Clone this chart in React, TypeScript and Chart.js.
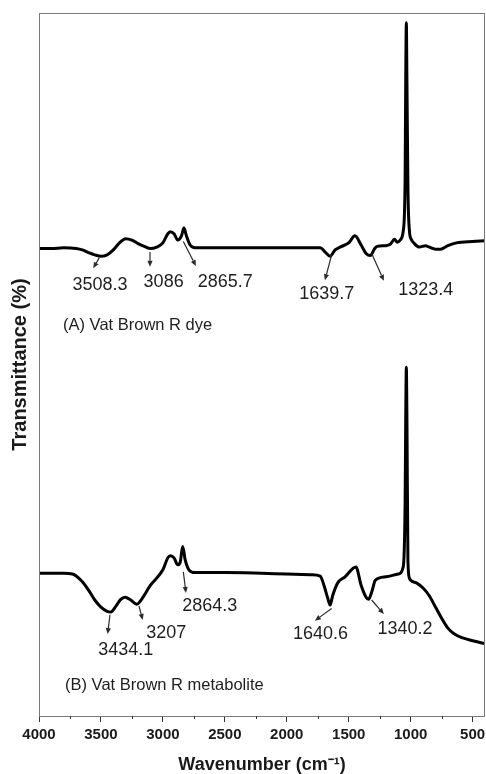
import React, { useEffect, useRef } from 'react';
import { Chart, registerables } from 'chart.js';

Chart.register(...registerables);

// ---- Data (wavenumber in cm-1, transmittance in arbitrary offset %) ----
const wavenumberA = [4000, 3900, 3800, 3700, 3650, 3600, 3550, 3500, 3450, 3400, 3350, 3300, 3250, 3200, 3150, 3100, 3050, 3000, 2960, 2940, 2910, 2880, 2850, 2830, 2810, 2780, 2740, 2600, 2400, 2200, 2000, 1800, 1730, 1690, 1650, 1610, 1570, 1500, 1450, 1400, 1360, 1325, 1290, 1270, 1200, 1165, 1130, 1110, 1080, 1060, 1045, 1040, 1035, 1030, 1022, 1010, 995, 970, 930, 880, 850, 800, 760, 700, 630, 500, 400];
const transmittanceA = [66.5, 66.5, 66.6, 66.5, 66.3, 65.9, 65.6, 65.4, 65.6, 66.3, 67.3, 67.9, 67.7, 67.2, 66.8, 66.5, 66.7, 67.3, 68.6, 68.9, 68.6, 67.7, 68.3, 69.4, 68.3, 67.0, 66.6, 66.6, 66.6, 66.6, 66.6, 66.6, 66.6, 66.0, 65.4, 66.3, 66.7, 67.3, 68.3, 67.0, 65.8, 65.5, 66.5, 66.8, 66.9, 67.1, 67.8, 67.4, 67.8, 69.0, 76.0, 90.0, 98.6, 90.0, 75.0, 69.0, 67.8, 67.2, 66.7, 66.9, 66.7, 66.4, 66.4, 66.9, 67.3, 67.5, 67.6];

const wavenumberB = [4000, 3800, 3730, 3650, 3600, 3550, 3500, 3450, 3420, 3380, 3340, 3305, 3260, 3210, 3180, 3100, 3000, 2960, 2940, 2910, 2880, 2860, 2840, 2820, 2790, 2740, 2500, 2200, 2000, 1800, 1730, 1700, 1670, 1650, 1630, 1590, 1530, 1442, 1400, 1360, 1340, 1310, 1286, 1200, 1100, 1060, 1045, 1040, 1035, 1030, 1022, 1010, 1000, 950, 900, 850, 800, 750, 700, 650, 580, 500, 400];
const transmittanceB = [20.3, 20.3, 20.2, 19.1, 17.9, 16.5, 15.5, 14.9, 14.8, 15.6, 16.6, 16.9, 16.5, 15.9, 16.4, 18.6, 20.8, 22.5, 22.8, 22.5, 21.5, 21.9, 24.1, 22.2, 20.8, 20.4, 20.4, 20.3, 20.2, 20.1, 19.9, 18.6, 16.8, 15.8, 17.1, 18.9, 19.8, 21.2, 18.6, 16.9, 16.6, 17.9, 19.3, 19.8, 20.2, 21.2, 30.0, 42.0, 49.6, 42.0, 22.0, 19.6, 19.3, 18.9, 18.2, 17.1, 15.5, 13.9, 12.5, 11.7, 11.1, 10.7, 10.3];

const xTickValues = [4000, 3500, 3000, 2500, 2000, 1500, 1000, 500];
const xMinorTickValues = [3750, 3250, 2750, 2250, 1750, 1250, 750];

// Peak annotations: label, label position [w, T], arrow start [w, T], arrow end [w, T]
const peakLabels = ['3508.3', '3086', '2865.7', '1639.7', '1323.4', '3434.1', '3207', '2864.3', '1640.6', '1340.2'];
const peakLabelPos = [[3508, 61.3], [2994, 61.7], [2496, 61.7], [1677, 60.0], [879, 60.6], [3300, 9.4], [2973, 11.85], [2622, 15.7], [1728, 11.66], [1046, 12.33]];
const peakArrowFrom = [[3513, 65.2], [3104, 66.0], [2835, 67.5], [1638, 65.6], [1315, 65.8], [3427, 14.4], [3193, 15.65], [2835, 20.5], [1638, 15.3], [1315, 16.5]];
const peakArrowTo = [[3562, 63.7], [3104, 63.9], [2733, 64.0], [1692, 62.0], [1216, 61.9], [3446, 11.66], [3163, 13.66], [2814, 17.5], [1773, 13.56], [1216, 14.5]];

const panelLabels = ['(A) Vat Brown R dye', '(B) Vat Brown R metabolite'];
const panelLabelPos = [[3806, 55.6], [3790, 4.4]];

const FONT = "'Liberation Sans', Arial, Helvetica, sans-serif";

const decorPlugin = {
  id: 'decor',
  afterDraw(chart: any) {
    const { ctx, chartArea, scales } = chart;
    const xs = scales.x;
    const ys = scales.y;
    ctx.save();
    // frame
    ctx.strokeStyle = '#7a7a7a';
    ctx.lineWidth = 1;
    ctx.strokeRect(chartArea.left + 0.5, chartArea.top + 0.5, chartArea.right - chartArea.left - 1, chartArea.bottom - chartArea.top);
    // minor ticks
    ctx.strokeStyle = '#333';
    ctx.beginPath();
    xMinorTickValues.forEach((v) => {
      const px = Math.round(xs.getPixelForValue(v)) + 0.5;
      ctx.moveTo(px, chartArea.bottom);
      ctx.lineTo(px, chartArea.bottom + 3);
    });
    ctx.stroke();

    // arrows
    ctx.strokeStyle = '#2a2a2a';
    ctx.fillStyle = '#2a2a2a';
    ctx.lineWidth = 1.2;
    peakLabels.forEach((_, i) => {
      const x1 = xs.getPixelForValue(peakArrowFrom[i][0]);
      const y1 = ys.getPixelForValue(peakArrowFrom[i][1]);
      const x2 = xs.getPixelForValue(peakArrowTo[i][0]);
      const y2 = ys.getPixelForValue(peakArrowTo[i][1]);
      const ang = Math.atan2(y2 - y1, x2 - x1);
      const head = 6;
      const hw = 2.6;
      const bx = x2 - head * Math.cos(ang);
      const by = y2 - head * Math.sin(ang);
      ctx.beginPath();
      ctx.moveTo(x1, y1);
      ctx.lineTo(bx, by);
      ctx.stroke();
      ctx.beginPath();
      ctx.moveTo(x2, y2);
      ctx.lineTo(bx + hw * Math.sin(ang), by - hw * Math.cos(ang));
      ctx.lineTo(bx - hw * Math.sin(ang), by + hw * Math.cos(ang));
      ctx.closePath();
      ctx.fill();
    });

    // peak labels
    ctx.fillStyle = '#1e1e1e';
    ctx.font = `18px ${FONT}`;
    ctx.textAlign = 'center';
    ctx.textBaseline = 'middle';
    peakLabels.forEach((t, i) => {
      ctx.fillText(t, xs.getPixelForValue(peakLabelPos[i][0]), ys.getPixelForValue(peakLabelPos[i][1]));
    });

    // panel labels
    ctx.font = `16.5px ${FONT}`;
    ctx.textAlign = 'left';
    panelLabels.forEach((t, i) => {
      ctx.fillText(t, xs.getPixelForValue(panelLabelPos[i][0]), ys.getPixelForValue(panelLabelPos[i][1]));
    });
    ctx.restore();
  },
};

export default function App() {
  const canvasRef = useRef<HTMLCanvasElement | null>(null);

  useEffect(() => {
    if (!canvasRef.current) return;
    const chart = new Chart(canvasRef.current, {
      type: 'line',
      data: {
        datasets: [
          {
            label: '(A) Vat Brown R dye',
            data: wavenumberA.map((w, i) => ({ x: w, y: transmittanceA[i] })),
            borderColor: '#000',
            borderWidth: 3,
            pointRadius: 0,
            cubicInterpolationMode: 'monotone',
            fill: false,
          },
          {
            label: '(B) Vat Brown R metabolite',
            data: wavenumberB.map((w, i) => ({ x: w, y: transmittanceB[i] })),
            borderColor: '#000',
            borderWidth: 3,
            pointRadius: 0,
            cubicInterpolationMode: 'monotone',
            fill: false,
          },
        ],
      },
      options: {
        animation: false,
        responsive: true,
        maintainAspectRatio: false,
        layout: { padding: { top: 13, right: 1, bottom: 0, left: 0 } },
        plugins: { legend: { display: false }, tooltip: { enabled: false } },
        scales: {
          x: {
            type: 'linear',
            reverse: true,
            min: 400,
            max: 4000,
            afterBuildTicks: (scale: any) => {
              scale.ticks = xTickValues.map((v) => ({ value: v }));
            },
            afterFit: (scale: any) => {
              scale.paddingLeft = 0;
              scale.paddingRight = 0;
            },
            ticks: {
              autoSkip: false,
              maxRotation: 0,
              padding: 4,
              color: '#1a1a1a',
              font: { family: FONT, size: 15, weight: 'bold' },
              callback: (v: any) => String(v),
            },
            grid: { display: true, drawOnChartArea: false, drawTicks: true, tickLength: 6, color: '#333' },
            border: { display: false },
            title: {
              display: true,
              text: 'Wavenumber (cm\u207B\u00B9)',
              color: '#1a1a1a',
              font: { family: FONT, size: 18, weight: 'bold', lineHeight: 1 },
              padding: { top: 8, bottom: 0 },
            },
          },
          y: {
            type: 'linear',
            min: 0,
            max: 100,
            ticks: { display: false },
            grid: { display: false, drawTicks: false },
            border: { display: false },
            title: {
              display: true,
              text: 'Transmittance (%)',
              color: '#1a1a1a',
              font: { family: FONT, size: 20, weight: 'bold', lineHeight: 1.2 },
              padding: { top: 8, bottom: 7 },
            },
          },
        },
      } as any,
      plugins: [decorPlugin],
    });
    return () => chart.destroy();
  }, []);

  return (
    <div style={{ position: 'fixed', left: 0, top: 0, width: 486, height: 774, background: '#fff' }}>
      <canvas ref={canvasRef} />
    </div>
  );
}
